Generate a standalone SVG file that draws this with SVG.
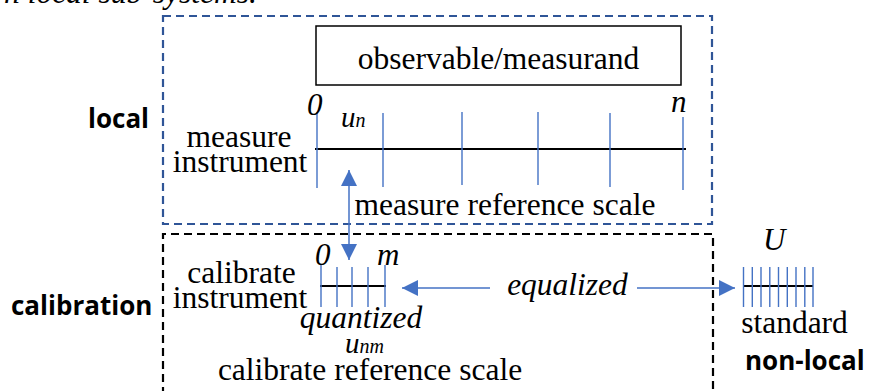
<svg xmlns="http://www.w3.org/2000/svg" width="869" height="391" viewBox="0 0 869 391">
<style>
  text.serif { font-family: 'Liberation Serif', 'DejaVu Serif', serif; font-size: 31.5px; fill: #000; }
  text.it { font-style: italic; }
  text.lab { font-size: 31px; }
  text.u { font-size: 29px; }
  text.bold { font-family: 'Open Sans', 'Liberation Sans', sans-serif; font-weight: 700; font-size: 26px; fill: #000; }
  .axis { stroke: #000; stroke-width: 2; }
  .tick { stroke: #4472C4; stroke-width: 1.4; }
  .conn { stroke: #4472C4; stroke-width: 1.5; fill: none; }
  .boxblue { fill: none; stroke: #2F5597; stroke-width: 2.2; stroke-dasharray: 8 5; }
  .boxblack { fill: none; stroke: #000; stroke-width: 2.2; stroke-dasharray: 8 5; }
  tspan.sub { font-size: 20px; }
</style>
<defs>
  <marker id="ah" markerUnits="userSpaceOnUse" markerWidth="16" markerHeight="16" refX="16" refY="8" orient="auto-start-reverse">
    <path d="M0,0 L16,8 L0,16 z" fill="#4472C4"/>
  </marker>
</defs>
<rect width="869" height="391" fill="#fff"/>

<text class="serif it" x="4" y="3">n local sub-systems.</text>

<g id="local-region">
  <rect class="boxblue" x="163" y="16" width="549" height="208"/>
  <text class="bold" x="88" y="128">local</text>
</g>

<g id="calibration-region">
  <path class="boxblack" d="M163,395 L163,234 L713,234 L713,395"/>
  <text class="bold" x="11" y="315">calibration</text>
</g>

<g id="observable">
  <rect x="316" y="26" width="365" height="59" fill="#fff" stroke="#000" stroke-width="1.5"/>
  <text class="serif" x="498.5" y="69" text-anchor="middle">observable/measurand</text>
</g>

<g id="measure-instrument">
  <text class="serif" x="239" y="147" text-anchor="middle">measure</text>
  <text class="serif" x="240" y="172" text-anchor="middle">instrument</text>
  <line class="axis" x1="315" y1="149" x2="686" y2="149"/>
  <line class="tick" x1="317" y1="112" x2="317" y2="188"/>
  <line class="tick" x1="383" y1="113" x2="383" y2="187"/>
  <line class="tick" x1="462" y1="112" x2="462" y2="185"/>
  <line class="tick" x1="538" y1="112" x2="538" y2="185"/>
  <line class="tick" x1="610" y1="113" x2="610" y2="187"/>
  <line class="tick" x1="683" y1="117" x2="683" y2="190"/>
  <text class="serif it lab" x="307" y="115">0</text>
  <text class="serif it u" x="341" y="127">u<tspan class="sub">n</tspan></text>
  <text class="serif it lab" x="671" y="112">n</text>
  <text class="serif" x="505" y="215" text-anchor="middle">measure reference scale</text>
</g>

<g id="calibrate-instrument">
  <text class="serif" x="241.5" y="283" text-anchor="middle">calibrate</text>
  <text class="serif" x="240" y="308" text-anchor="middle">instrument</text>
  <line class="axis" x1="320" y1="286" x2="386" y2="286"/>
  <line class="tick" x1="321" y1="265" x2="321" y2="307"/>
  <line class="tick" x1="337" y1="267" x2="337" y2="307"/>
  <line class="tick" x1="352" y1="267" x2="352" y2="307"/>
  <line class="tick" x1="368" y1="267" x2="368" y2="307"/>
  <line class="tick" x1="385" y1="265" x2="385" y2="307"/>
  <text class="serif it lab" x="315" y="265">0</text>
  <text class="serif it lab" x="377" y="265">m</text>
  <text class="serif it" x="361" y="328" text-anchor="middle">quantized</text>
  <text class="serif it u" x="345" y="353">u<tspan class="sub">nm</tspan></text>
  <text class="serif" x="370" y="380" text-anchor="middle">calibrate reference scale</text>
</g>

<g id="standard">
  <text class="serif it lab" x="763" y="250">U</text>
  <line class="axis" x1="744" y1="286" x2="813" y2="286"/>
  <line class="tick" x1="743.5" y1="267" x2="743.5" y2="307"/>
  <line class="tick" x1="752.3" y1="267" x2="752.3" y2="307"/>
  <line class="tick" x1="761" y1="267" x2="761" y2="307"/>
  <line class="tick" x1="769.8" y1="267" x2="769.8" y2="307"/>
  <line class="tick" x1="778.5" y1="267" x2="778.5" y2="307"/>
  <line class="tick" x1="787.3" y1="267" x2="787.3" y2="307"/>
  <line class="tick" x1="796" y1="267" x2="796" y2="307"/>
  <line class="tick" x1="804.8" y1="267" x2="804.8" y2="307"/>
  <line class="tick" x1="813" y1="267" x2="813" y2="307"/>
  <text class="serif" x="794.5" y="333" text-anchor="middle">standard</text>
  <text class="bold" x="745" y="370">non-local</text>
</g>

<g id="connectors">
  <line class="conn" x1="349" y1="170" x2="349" y2="260" marker-start="url(#ah)" marker-end="url(#ah)"/>
  <line class="conn" x1="490" y1="288" x2="402" y2="288" marker-end="url(#ah)"/>
  <line class="conn" x1="637" y1="288" x2="735" y2="288" marker-end="url(#ah)"/>
  <text class="serif it" x="567.5" y="295" text-anchor="middle">equalized</text>
</g>
</svg>
